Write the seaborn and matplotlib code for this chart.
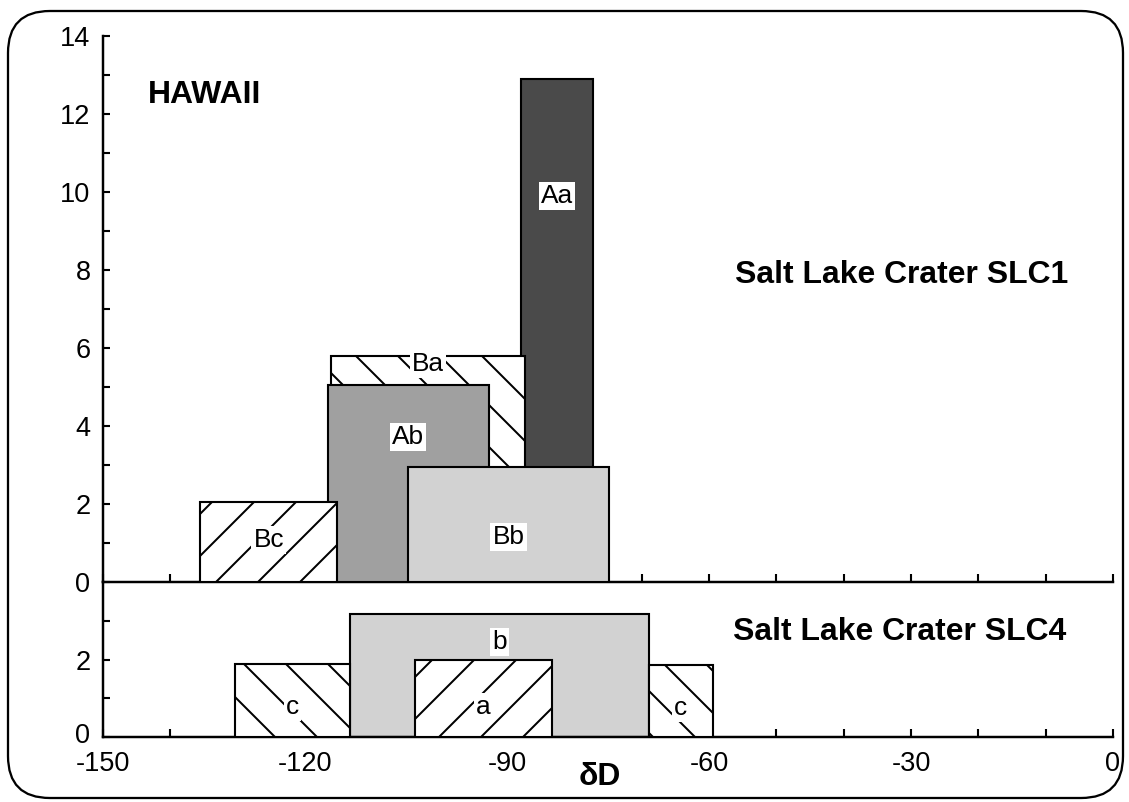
import matplotlib
matplotlib.use("Agg")
import matplotlib.pyplot as plt
from matplotlib.patches import FancyBboxPatch
from matplotlib.ticker import MultipleLocator, FixedLocator, NullFormatter
from matplotlib.transforms import ScaledTranslation
import seaborn as sns

# Salt Lake Crater SLC1 groups (dD range and count), listed in drawing order
slc1_names = ["Aa", "Ba", "Ab", "Bb", "Bc"]
slc1_lo = [-87.9, -116.1, -116.6, -104.7, -135.5]
slc1_hi = [-77.2, -87.3, -92.7, -74.8, -115.2]
slc1_count = [12.9, 5.8, 5.05, 2.95, 2.05]

# Salt Lake Crater SLC4 groups
slc4_names = ["b", "c", "a", "c"]
slc4_lo = [-113.3, -130.3, -103.7, -68.95]
slc4_hi = [-68.95, -113.3, -83.3, -59.4]
slc4_count = [3.18, 1.88, 2.0, 1.85]

x_ticks = [-150, -120, -90, -60, -30, 0]
x_tick_labels = ["-150", "-120", "-90", "-60", "-30", "0"]
slc1_yticks = [0, 2, 4, 6, 8, 10, 12, 14]
slc4_yticks = [0, 2]

# fill styles per group
fills = {
    "Aa": dict(facecolor="#4a4a4a"),
    "Ab": dict(facecolor="#a0a0a0"),
    "Bb": dict(facecolor="#d2d2d2"),
    "b": dict(facecolor="#d2d2d2"),
    "Ba": dict(facecolor="white", hatch="\\"),
    "Bc": dict(facecolor="white", hatch="/"),
    "a": dict(facecolor="white", hatch="/"),
    "c": dict(facecolor="white", hatch="\\"),
}
slc1_label_y = [9.9, 5.6, 3.72, 1.15, 1.08]
slc4_label_y = [2.46, 0.77, 0.77, 0.75]

DPI = 126
W, H = 1129, 802

sns.set_theme(style="ticks")
plt.rcParams["font.family"] = ["Liberation Sans", "DejaVu Sans"]
plt.rcParams.update({
    "hatch.linewidth": 1.15,
    "axes.unicode_minus": False,
    "text.color": "black",
    "axes.labelcolor": "black",
    "axes.edgecolor": "black",
    "xtick.color": "black",
    "ytick.color": "black",
})

fig = plt.figure(figsize=(W / DPI, H / DPI), dpi=DPI)
fig.patch.set_facecolor("white")

# rounded outer frame, drawn in pixel units
frame = fig.add_axes([0, 0, 1, 1], zorder=-5)
frame.set_xlim(0, W)
frame.set_ylim(H, 0)
frame.axis("off")
frame.add_patch(FancyBboxPatch((8, 11), 1115, 787,
                               boxstyle="round,pad=0,rounding_size=42",
                               fill=False, lw=1.3, ec="black"))

left = 102.7 / W
width = (1113 - 102.7) / W
y_top, y_mid, y_bot = 36, 582, 737
ax1 = fig.add_axes([left, 1 - y_mid / H, width, (y_mid - y_top) / H])
ax2 = fig.add_axes([left, 1 - y_bot / H, width, (y_bot - y_mid) / H])

tick_font = 15.5
label_font = 15
title_font = 18.2


def draw_groups(ax, names, lo, hi, count, label_y):
    for i, (n, a, b, c, ly) in enumerate(zip(names, lo, hi, count, label_y)):
        ax.bar(a, c, width=b - a, align="edge", edgecolor="black",
               linewidth=1.2, zorder=2 + i, **fills[n])
        ax.text((a + b) / 2, ly, n, ha="center", va="center",
                fontsize=label_font, zorder=20,
                bbox=dict(boxstyle="square,pad=0.08", fc="white", ec="none"))


draw_groups(ax1, slc1_names, slc1_lo, slc1_hi, slc1_count, slc1_label_y)
draw_groups(ax2, slc4_names, slc4_lo, slc4_hi, slc4_count, slc4_label_y)

for ax in (ax1, ax2):
    ax.set_xlim(-150, 0)
    ax.set_facecolor("none")
    sns.despine(ax=ax, top=True, right=True)
    for s in ("left", "bottom"):
        ax.spines[s].set_linewidth(1.4)
    ax.xaxis.set_major_locator(FixedLocator(x_ticks))
    ax.xaxis.set_minor_locator(MultipleLocator(10))
    ax.tick_params(axis="both", which="both", direction="in",
                   width=1.2, labelsize=tick_font)
    ax.tick_params(axis="x", which="both", length=4.6, pad=8)
    ax.tick_params(axis="y", which="both", length=4.0, pad=7)
    ax.yaxis.set_minor_locator(MultipleLocator(1))
    ax.grid(False)

ax1.set_ylim(0, 14)
ax1.set_yticks(slc1_yticks)
ax1.set_yticklabels([str(v) for v in slc1_yticks])
ax1.xaxis.set_major_formatter(NullFormatter())

ax2.set_ylim(0, 4)
ax2.set_yticks(slc4_yticks)
ax2.set_yticklabels([str(v) for v in slc4_yticks])
ax2.yaxis.set_minor_locator(FixedLocator([1, 3]))
ax2.set_xticklabels(x_tick_labels)

# lift the lower panel's zero label a little clear of the -150 label
zero_lbl = ax2.yaxis.get_major_ticks()[0].label1
zero_lbl.set_transform(zero_lbl.get_transform()
                       + ScaledTranslation(0, 2.5 / 72, fig.dpi_scale_trans))

ax1.text(-143.3, 12.28, "HAWAII", fontsize=title_font, fontweight="bold",
         ha="left", va="baseline")
ax1.text(-56.1, 7.67, "Salt Lake Crater SLC1", fontsize=title_font,
         fontweight="bold", ha="left", va="baseline")
ax2.text(-56.4, 2.5, "Salt Lake Crater SLC4", fontsize=title_font,
         fontweight="bold", ha="left", va="baseline")
fig.text(600 / W, 1 - 785 / H, "\u03b4D", fontsize=title_font,
         fontweight="bold", ha="center", va="baseline")

fig.savefig("out.png", dpi=DPI, facecolor="white")
